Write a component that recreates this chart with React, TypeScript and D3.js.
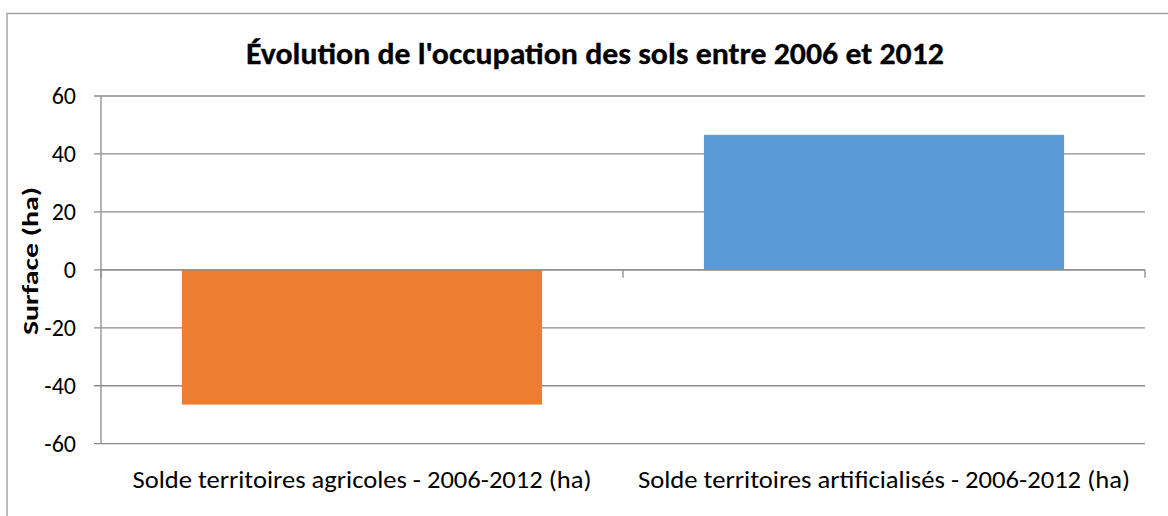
import React from "react";
import * as d3 from "d3";

const categories: string[] = [
  "Solde territoires agricoles - 2006-2012 (ha)",
  "Solde territoires artificialisés - 2006-2012 (ha)",
];
const values: number[] = [-46.5, 46.6];
const colors: string[] = ["#ED7D31", "#5B9BD5"];
const yTicks: number[] = [60, 40, 20, 0, -20, -40, -60];
const title = "Évolution de l'occupation des sols entre 2006 et 2012";
const yLabel = "Surface (ha)";

const W = 1168;
const H = 516;
const plotLeft = 101;
const plotRight = 1145;
const plotTop = 96;
const plotBottom = 443.7;
const gridColor = "#8c8c8c";
const font = "Carlito, Calibri, 'Open Sans', sans-serif";

export default function App() {
  const y = d3.scaleLinear().domain([-60, 60]).range([plotBottom, plotTop]);
  const x = d3
    .scaleBand<string>()
    .domain(categories)
    .range([plotLeft, plotRight])
    .paddingInner(0.31)
    .paddingOuter(0.155);
  const step = x.step();
  const labelWidths = [459, 492];
  const boundaries = d3.range(categories.length + 1).map((i) => plotLeft + i * step);

  return (
    <svg
      width={W}
      height={H}
      style={{ position: "absolute", left: 0, top: 0, background: "#fff" }}
    >
      <rect x={0} y={0} width={W} height={H} fill="#fff" />
      <rect
        x={7}
        y={13.5}
        width={W + 20}
        height={H + 20}
        fill="none"
        stroke="#999"
        strokeWidth={1.3}
      />
      <text
        x={595}
        y={64}
        textAnchor="middle"
        fontFamily={font}
        fontWeight="bold"
        fontSize={30}
        textLength={698}
        lengthAdjust="spacingAndGlyphs"
        fill="#000"
        stroke="#000"
        strokeWidth={0.3}
      >
        {title}
      </text>
      {yTicks.map((t) => (
        <g key={t}>
          <line
            x1={plotLeft - 7}
            x2={plotRight}
            y1={y(t)}
            y2={y(t)}
            stroke={gridColor}
            strokeWidth={1.3}
          />
          <text
            x={76}
            y={y(t) + 8}
            textAnchor="end"
            fontFamily={font}
            fontSize={24}
            fill="#000"
          >
            {t}
          </text>
        </g>
      ))}
      <line
        x1={plotLeft}
        x2={plotLeft}
        y1={plotTop}
        y2={plotBottom}
        stroke={gridColor}
        strokeWidth={1.3}
      />
      {categories.map((c, i) => (
        <rect
          key={c}
          x={x(c)}
          y={y(Math.max(0, values[i]))}
          width={x.bandwidth()}
          height={Math.abs(y(values[i]) - y(0))}
          fill={colors[i]}
        />
      ))}
      <line
        x1={plotLeft}
        x2={plotRight}
        y1={y(0)}
        y2={y(0)}
        stroke={gridColor}
        strokeWidth={1.3}
      />
      {boundaries.map((b, i) => (
        <line
          key={i}
          x1={b}
          x2={b}
          y1={y(0)}
          y2={y(0) + 8}
          stroke={gridColor}
          strokeWidth={1.3}
        />
      ))}
      {categories.map((c, i) => (
        <text
          key={c}
          x={(x(c) as number) + x.bandwidth() / 2}
          y={487.5}
          textAnchor="middle"
          fontFamily={font}
          fontSize={24}
          textLength={labelWidths[i]}
          lengthAdjust="spacingAndGlyphs"
          fill="#000"
        >
          {c}
        </text>
      ))}
      <text
        transform={`translate(38, 261) rotate(-90)`}
        textAnchor="middle"
        fontFamily={font}
        fontWeight="bold"
        fontSize={23}
        textLength={148}
        lengthAdjust="spacingAndGlyphs"
        fill="#000"
      >
        {yLabel}
      </text>
    </svg>
  );
}
